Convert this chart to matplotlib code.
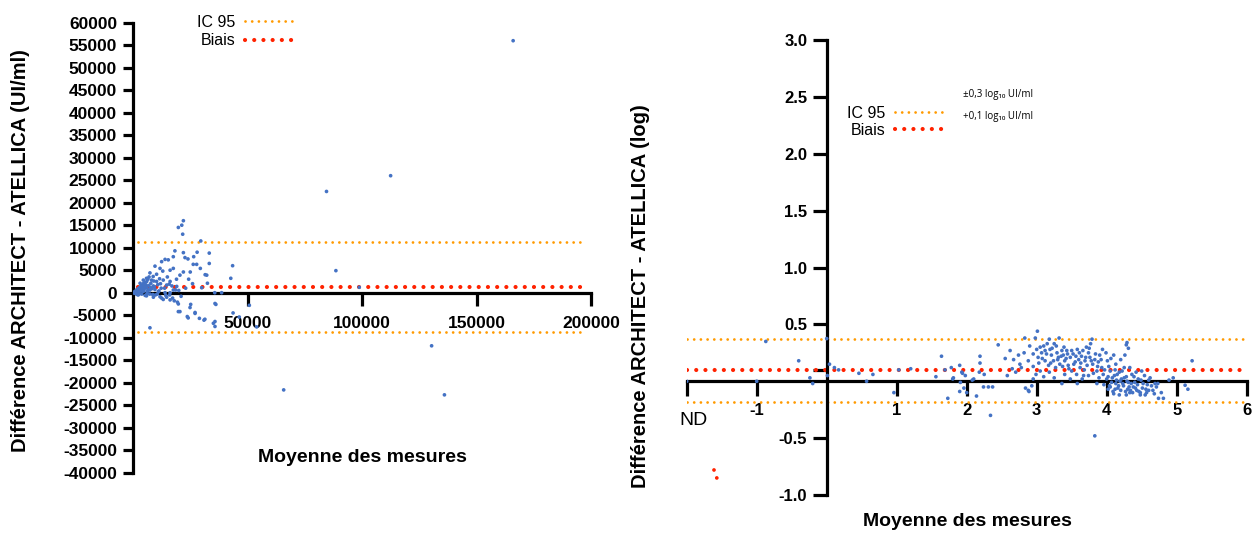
import numpy as np
import matplotlib.pyplot as plt

plt.rcParams['font.family'] = ['Liberation Sans', 'DejaVu Sans']

# --- Bland-Altman en UI/ml (gauche) ---
moy_ui = [166000, 112500, 84500, 88600, 98800, 65800, 130400, 136000,
          22000, 21300, 19800, 21700, 29600, 18300, 22000, 33300, 14000, 15400,
          17600, 22700, 26300, 27800, 33300, 12500, 9600, 11800, 16200, 17600,
          22000, 20500, 25000, 29400, 32200, 32500, 42700, 43500, 7400, 5900,
          4500, 3100, 8100, 10300, 13200, 14700, 16200, 19100, 8900, 5200, 1600,
          900, 3800, 7400, 11100, 14000, 16200, 17600, 35700, 38700, 2300, 5900,
          8900, 11800, 13200, 14700, 16200, 19800, 24900, 20500, 27100, 29000,
          31000, 24100, 35100, 7400, 35800, 36200, 50800, 43700, 46400, 54000,
          35800, 35800, 19400, 23700, 25200, 27100, 31400, 19800, 30000,
          500, 1000, 1500, 2000, 2500, 3000, 3500, 4000, 4500, 5000, 5500, 6000,
          6500, 7000, 1200, 1800, 2600, 3300, 3800, 4200, 4800, 5300, 5800, 6300,
          6800, 7300, 7800, 8300, 8800, 9300, 9800, 10300, 10800, 11300, 12000,
          12500, 13000, 13800, 15000, 16000, 17000, 18000, 19000, 20000, 21000,
          23000, 26000, 28000, 24000, 26500, 31500, 200, 700, 1400, 2200, 2800,
          3600, 4400, 5100, 6100, 6600, 7600, 8600, 9100, 9600, 10600, 11600,
          12300, 14300, 15800, 17300, 18600, 24300]
diff_ui = [56000, 26000, 22500, 4900, 1200, -21600, -11800, -22700,
           16000, 15000, 14500, 13000, 11500, 9300, 8900, 8800, 7400, 7300,
           8000, 7800, 6300, 6300, 6500, 6900, 5900, 5400, 5000, 5400,
           4600, 3900, 4600, 5400, 3900, 2100, 3200, 6000, 4400, 3200,
           2800, 2100, 2800, 2500, 2800, 1700, 2500, 1400, 1500, 1000, 600,
           200, 400, 600, 200, 0, 0, 600, 0, 0, -500, -700,
           -1000, -900, -1500, -1000, -1600, -2500, -3300, -4200, -4400, -5700,
           -6100, -5600, -6800, -7800, -2400, -2600, -2800, -4500, -5400, -7600,
           -6400, -7500, -2100, -5300, -2600, -4600, -5900, -4200, 1100,
           100, 300, 500, 800, 1000, 1200, 1500, 1600, 2000, 2200, 1800, 2500,
           3000, 3500, -200, -400, 200, 600, -300, 900, 400, -600, 1100, 300,
           1600, -300, 2100, 900, 3600, 1300, -500, 4100, 1800, 400, 2000,
           -1200, 4800, 1000, 3500, -500, 1500, -1800, 3000, 500, -800,
           1000, 2000, 9000, 7500, 8000, 4000, 0, -100, 100, 300, -200,
           900, 300, 1400, -200, 700, 1200, -400, 2600, 700, -300, 3100,
           1000, -600, 1900, -1200, 600, 3000]
ic95_ui = [11200, -8750]
biais_ui = 1200

# --- Bland-Altman en log10 (droite) ---
moy_log = [-2.0, -1.0, -0.87, -0.4, -0.24, -0.2, 0.0, 0.01, 0.04, 0.11, 0.17, 0.46,
           0.57, 0.66, 0.96, 1.03, 1.2, 1.56, 1.64, 1.69, 1.73, 1.78, 1.81, 1.9,
           1.9, 1.94, 1.96, 1.98, 2.0, 2.14, 2.1, 2.19, 2.34, 2.24, 2.31, 2.37,
           2.45, 2.25, 2.19, 2.18, 2.08, 1.91, 1.93, 1.8, 2.84, 2.89, 3.83,
           3.01, 2.83, 2.98, 3.18, 3.32, 3.79, 4.29, 4.31, 4.28, 2.55, 2.62, 2.67,
           2.74, 2.76, 2.82, 2.88, 2.9, 2.95, 3.0, 3.02, 3.07, 3.1, 3.12, 3.14,
           3.17, 3.19, 3.21, 3.24, 3.25, 3.29, 3.31, 3.33, 3.36, 3.38, 3.4, 3.43,
           3.45, 3.48, 3.5, 3.52, 3.55, 3.58, 3.6, 3.62, 3.64, 3.67, 3.69, 3.71,
           3.74, 3.76, 3.77, 3.8, 3.83, 3.86, 3.88, 3.9, 3.93, 3.95, 3.99, 4.01,
           4.02, 4.05, 4.07, 4.1, 4.11, 4.13, 4.14, 4.17, 4.18, 4.2, 4.21, 4.23,
           4.25, 4.26, 4.28, 4.3, 4.31, 4.33, 4.36, 4.38, 4.4, 4.43, 4.45, 4.48,
           4.5, 4.52, 4.56, 4.6, 4.64, 4.69, 4.71, 4.81, 4.95, 2.93, 2.88, 2.95,
           3.05, 3.36, 3.58, 3.86, 4.05, 4.12,
           3.05, 3.08, 3.12, 3.15, 3.2, 3.22, 3.27, 3.28, 3.3, 3.35, 3.37, 3.39,
           3.42, 3.44, 3.46, 3.5, 3.53, 3.56, 3.57, 3.61, 3.63, 3.66, 3.68, 3.7,
           3.72, 3.75, 3.78, 3.81, 3.84, 3.87, 3.89, 3.92, 3.94, 3.97, 4.0, 4.03,
           4.04, 4.06, 4.08, 4.09, 4.12, 4.13, 4.15, 4.16, 4.19, 4.2, 4.22, 4.24,
           4.25, 4.27, 4.29, 4.32, 4.33, 4.35, 4.37, 4.39, 4.41, 4.42, 4.44, 4.46,
           4.49, 4.51, 4.54, 4.57, 4.58, 4.62, 4.66, 4.73, 4.78, 2.95, 2.99, 3.03,
           2.7, 2.78, 2.65, 2.58, 3.1, 3.18, 3.25, 3.4, 3.48, 3.65, 3.74, 3.96,
           4.02, 4.1, 4.18, 4.28, 4.34, 4.48, 4.55, 4.6, 4.68,
           5.12, 5.16, 5.22, 4.89, 4.74]
diff_log = [0.0, 0.0, 0.35, 0.18, 0.03, -0.02, 0.375, 0.05, 0.15, 0.12, 0.1, 0.07,
            0.0, 0.06, -0.1, 0.1, 0.11, 0.04, 0.22, 0.1, -0.15, 0.12, 0.03, 0.14,
            -0.09, 0.07, -0.06, 0.05, -0.1, -0.13, 0.02, 0.22, -0.3, -0.05, -0.05, -0.05,
            0.32, 0.06, 0.16, 0.08, 0.01, -0.01, 0.08, 0.02, -0.06, -0.09, -0.48,
            0.44, 0.38, 0.38, 0.37, 0.38, 0.37, 0.34, 0.29, 0.32, 0.2, 0.27, 0.19,
            0.23, 0.15, 0.25, 0.18, 0.31, 0.24, 0.28, 0.21, 0.25, 0.31, 0.18, 0.24,
            0.14, 0.28, 0.23, 0.18, 0.33, 0.25, 0.21, 0.15, 0.27, 0.23, 0.18, 0.27,
            0.14, 0.21, 0.09, 0.24, 0.17, 0.28, 0.19, 0.12, 0.22, 0.05, 0.18, 0.3,
            0.25, 0.21, 0.33, 0.15, 0.19, 0.09, 0.17, 0.23, 0.12, 0.06, 0.25, 0.18,
            0.04, 0.09, -0.01, 0.23, 0.05, 0.15, 0.01, -0.04, 0.08, 0.19, 0.02, -0.02,
            0.12, 0.23, 0.04, -0.07, -0.01, -0.1, 0.06, -0.05, -0.01, -0.08, 0.02, -0.1,
            0.09, -0.02, -0.07, 0.01, -0.04, -0.02, -0.05, -0.15, 0.03, -0.04, -0.08, 0.02,
            0.09, -0.02, -0.02, -0.02, -0.05, -0.07,
            0.3, 0.2, 0.27, 0.33, 0.16, 0.29, 0.12, 0.31, 0.19, 0.22, 0.13, 0.3,
            0.2, 0.24, 0.11, 0.27, 0.15, 0.22, 0.06, 0.25, 0.16, 0.27, 0.1, 0.21,
            0.14, 0.29, 0.18, 0.07, 0.24, 0.13, 0.03, 0.19, 0.28, 0.1, 0.02, 0.13,
            -0.04, 0.2, 0.03, -0.09, 0.1, -0.02, 0.06, -0.06, 0.0, -0.08, 0.09, -0.04,
            0.03, -0.09, 0.0, -0.05, 0.12, -0.02, -0.1, 0.04, -0.06, 0.08, -0.03, -0.09,
            0.01, -0.06, 0.05, -0.1, -0.03, 0.03, -0.08, -0.02, -0.1, 0.13, 0.06, 0.16,
            0.08, 0.12, 0.11, 0.05, 0.04, 0.08, 0.03, 0.06, 0.02, 0.02, 0.05, -0.03,
            -0.07, -0.11, -0.12, -0.12, -0.08, -0.12, -0.12, -0.08, -0.11,
            -0.035, -0.07, 0.18, 0.01, -0.15]
nd_x = [-1.61, -1.57]
nd_y = [-0.78, -0.85]
ic95_log = [0.375, -0.18]
biais_log = 0.10

bleu = '#4472C4'
orange = '#FF9A00'
rouge = '#FF2200'


def style_axes(ax, ylen, xlen, taille=12):
    for s in ['top', 'right']:
        ax.spines[s].set_visible(False)
    for s in ['left', 'bottom']:
        ax.spines[s].set_linewidth(2.3)
    ax.tick_params(axis='y', length=ylen, width=2.3, labelsize=taille, pad=4)
    ax.tick_params(axis='x', length=xlen, width=2.3, labelsize=taille, pad=5)
    for lbl in ax.get_xticklabels() + ax.get_yticklabels():
        lbl.set_fontweight('bold')


def lignes(ax, ic, biais, x0, x1):
    ax.hlines(ic, x0, x1, color=orange, lw=2.0,
              linestyles=[(0, (0.01, 2.4))], capstyle='round')
    ax.hlines(biais, x0, x1, color=rouge, lw=3.0,
              linestyles=[(0, (0.01, 2.2))], capstyle='round')
    h_ic, = ax.plot([], [], color=orange, lw=2.0, ls=(0, (0.01, 2.4)),
                    dash_capstyle='round')
    h_b, = ax.plot([], [], color=rouge, lw=3.0, ls=(0, (0.01, 2.2)),
                   dash_capstyle='round')
    return h_ic, h_b


fig = plt.figure(figsize=(12.53, 5.33), dpi=100)

# ---------- gauche ----------
ax1 = fig.add_axes([133 / 1253, 60.3 / 533, 458 / 1253, 450 / 533])
ax1.scatter(moy_ui, diff_ui, s=7, color=bleu, edgecolors='none', zorder=3)
h_ic, h_b = lignes(ax1, ic95_ui, biais_ui, 2000, 198000)
ax1.set_xlim(0, 200000)
ax1.set_ylim(-40000, 60000)
ax1.spines['bottom'].set_position(('data', 0))
yt = np.arange(-40000, 60001, 5000)
ax1.set_yticks(yt)
ax1.set_yticklabels([str(v) for v in yt])
ax1.set_xticks([50000, 100000, 150000, 200000])
ax1.set_xticklabels(['50000', '100000', '150000', '200000'])
style_axes(ax1, 7.5, 9.5, taille=12.5)
ax1.tick_params(axis='x', pad=7)
ax1.legend([h_ic, h_b], ['IC 95', 'Biais'], loc='upper left',
           bbox_to_anchor=(197 / 1253, 1 - 15 / 533), bbox_transform=fig.transFigure,
           frameon=False, markerfirst=False, fontsize=11.5, handlelength=3.3,
           handletextpad=0.6, labelspacing=0.2, borderpad=0, borderaxespad=0)

fig.text(0.016, 0.53, 'Différence ARCHITECT - ATELLICA (UI/ml)', rotation=90,
         ha='center', va='center', fontsize=14.5, fontweight='bold')
fig.text(362 / 1253, 1 - 458 / 533, 'Moyenne des mesures', ha='center', va='center',
         fontsize=14, fontweight='bold')

# ---------- droite ----------
ax2 = fig.add_axes([686.7 / 1253, 38 / 533, 560 / 1253, 455 / 533])
ax2.scatter(moy_log, diff_log, s=7, color=bleu, edgecolors='none', zorder=3)
ax2.scatter(nd_x, nd_y, s=7, color=rouge, edgecolors='none', zorder=3)
h_ic2, h_b2 = lignes(ax2, ic95_log, biais_log, -2, 6)
ax2.set_xlim(-2, 6)
ax2.set_ylim(-1, 3)
ax2.spines['left'].set_position(('data', 0))
ax2.spines['bottom'].set_position(('data', 0))
ax2.set_yticks([-1.0, -0.5, 0.5, 1.0, 1.5, 2.0, 2.5, 3.0])
ax2.set_yticklabels(['-1.0', '-0.5', '0.5', '1.0', '1.5', '2.0', '2.5', '3.0'])
ax2.set_yticks([0.1], minor=True)
ax2.tick_params(axis='y', which='minor', length=10, width=2.3)
ax2.set_xticks([-2, -1, 1, 2, 3, 4, 5, 6])
ax2.set_xticklabels(['', '-1', '1', '2', '3', '4', '5', '6'])
style_axes(ax2, 10, 11)
ax2.annotate('ND', xy=(-2, 0), xytext=(5, -28), textcoords='offset points',
             ha='center', va='center', fontsize=14)
ax2.legend([h_ic2, h_b2], ['IC 95', 'Biais'], loc='upper left',
           bbox_to_anchor=(847 / 1253, 1 - 106 / 533), bbox_transform=fig.transFigure,
           frameon=False, markerfirst=False, fontsize=11.5, handlelength=3.3,
           handletextpad=0.6, labelspacing=0.1, borderpad=0, borderaxespad=0)

fig.text(963 / 1253, 1 - 94 / 533, '±0,3 log₁₀ UI/ml', ha='left', va='center',
         fontsize=7, family=['Open Sans', 'DejaVu Sans'])
fig.text(963 / 1253, 1 - 116 / 533, '+0,1 log₁₀ UI/ml', ha='left', va='center',
         fontsize=7, family=['Open Sans', 'DejaVu Sans'])

fig.text(640 / 1253, 1 - 296 / 533, 'Différence ARCHITECT - ATELLICA (log)', rotation=90,
         ha='center', va='center', fontsize=14.5, fontweight='bold')
fig.text(967 / 1253, 1 - 522 / 533, 'Moyenne des mesures', ha='center', va='center',
         fontsize=14, fontweight='bold')

fig.savefig('out.png', dpi=100)
